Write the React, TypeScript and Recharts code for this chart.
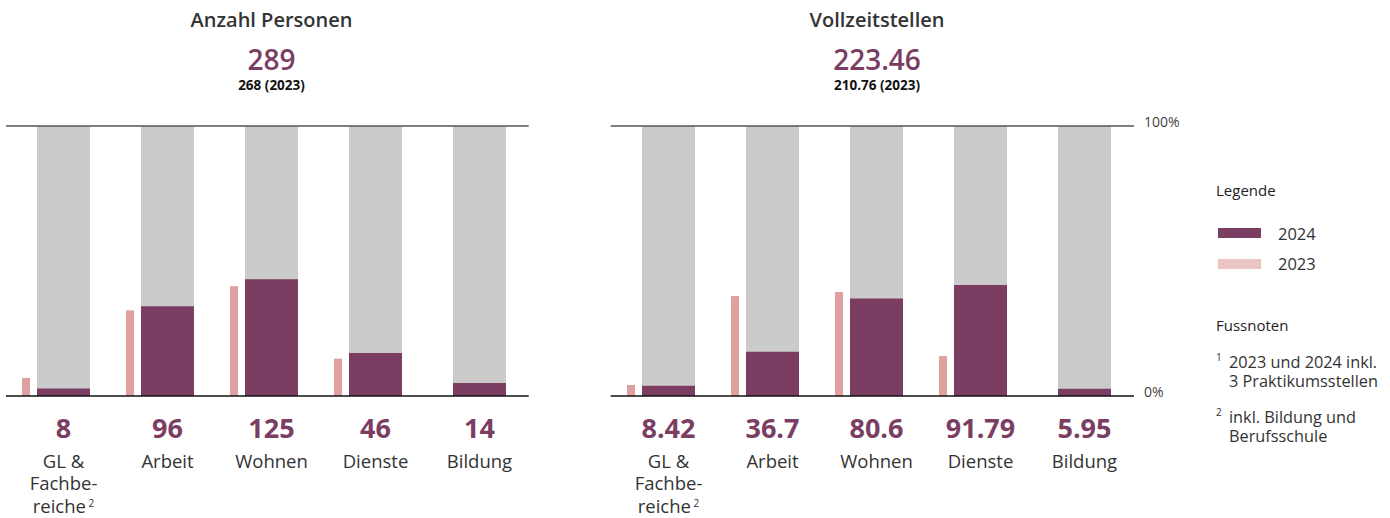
import React from 'react';
import { BarChart, Bar, XAxis, YAxis, ReferenceLine } from 'recharts';

const categories = ['GL & Fachbereiche', 'Arbeit', 'Wohnen', 'Dienste', 'Bildung'];
const categoryLines = [['GL &', 'Fachbe-', 'reiche'], ['Arbeit'], ['Wohnen'], ['Dienste'], ['Bildung']];
const categoryNotes = ['2', '', '', '', ''];

const personen2024 = [8, 96, 125, 46, 14];
const personen2023 = [18, 85, 109, 37, 0];
const personenTotal2024 = 289;
const personenTotal2023 = 268;

const vollzeit2024 = [8.42, 36.7, 80.6, 91.79, 5.95];
const vollzeit2023 = [8.6, 78, 81.2, 31.2, 0];
const vollzeitTotal2024 = 223.46;
const vollzeitTotal2023 = 210.76;

const yTicks = [0, 100];

const footnotes = [
  { mark: '1', lines: ['2023 und 2024 inkl.', '3 Praktikumsstellen'] },
  { mark: '2', lines: ['inkl. Bildung und', 'Berufsschule'] },
];

const PURPLE = '#7b3d62';
const PINK = '#e0a0a0';
const PINK_LEGEND = '#ebc4c4';
const GRAY = '#cbcbcb';
const FONT = '"Open Sans", sans-serif';

const buildRows = (v24: number[], t24: number, v23: number[], t23: number) =>
  categories.map((name, i) => ({
    name,
    s2024: (v24[i] / t24) * 100,
    s2023: (v23[i] / t23) * 100,
  }));

const personenRows = buildRows(personen2024, personenTotal2024, personen2023, personenTotal2023);
const vollzeitRows = buildRows(vollzeit2024, vollzeitTotal2024, vollzeit2023, vollzeitTotal2023);

const LINE_H = 22.5;

const makeCatTick = (values: number[]) => (props: any) => {
  const { x, y, payload } = props;
  const i = categories.indexOf(payload.value);
  const cx = x + 7.5;
  const lines = categoryLines[i];
  return (
    <g>
      <text x={cx} y={y + 32} dy="0.36em" textAnchor="middle" fontFamily={FONT} fontSize={27} fontWeight={700} fill={PURPLE}>
        {String(values[i])}
      </text>
      <text x={cx} y={y + 65} textAnchor="middle" fontFamily={FONT} fontSize={18.5} fill="#333">
        {lines.map((ln, k) => (
          <React.Fragment key={k}>
            <tspan x={cx} dy={k === 0 ? '0.36em' : LINE_H}>{ln}</tspan>
            {k === lines.length - 1 && categoryNotes[i] ? (
              <tspan fontSize={10} dy={-6}>{' ' + categoryNotes[i]}</tspan>
            ) : null}
          </React.Fragment>
        ))}
      </text>
    </g>
  );
};

const PercentTick = (props: any) => {
  const { x, y, payload } = props;
  return (
    <text x={x} y={y - 4.5} dy="0.36em" textAnchor="start" fontFamily={FONT} fontSize={14} fill="#444">
      {payload.value + '%'}
    </text>
  );
};

function Panel(props: {
  left: number;
  width: number;
  margin: { top: number; right: number; bottom: number; left: number };
  padding: { left: number; right: number };
  rows: any[];
  values: number[];
  showPercent: boolean;
}) {
  const { left, width, margin, padding, rows, values, showPercent } = props;
  return (
    <div style={{ position: 'absolute', left, top: 0 }}>
      <BarChart width={width} height={518} data={rows} margin={margin} barGap={7}>
        <XAxis
          dataKey="name"
          height={122}
          padding={padding}
          tickLine={false}
          tickSize={0}
          tickMargin={0}
          axisLine={{ stroke: '#111', strokeWidth: 1.5 }}
          tick={makeCatTick(values)}
          interval={0}
        />
        <YAxis
          domain={[0, 100]}
          ticks={yTicks}
          hide={!showPercent}
          orientation="right"
          width={50}
          axisLine={false}
          tickLine={false}
          tickSize={6}
          tickMargin={4}
          tick={<PercentTick />}
        />
        <Bar dataKey="s2023" fill={PINK} barSize={8} isAnimationActive={false} />
        <Bar dataKey="s2024" fill={PURPLE} barSize={53} background={{ fill: GRAY }} isAnimationActive={false} />
        <ReferenceLine y={100} stroke="#555" strokeWidth={1.5} ifOverflow="visible" />
      </BarChart>
    </div>
  );
}

const footTops = [362, 417];

export default function App() {
  return (
    <div style={{ position: 'absolute', left: 0, top: 0, width: 1390, height: 518, background: '#fff', overflow: 'hidden' }}>
      <Panel
        left={0}
        width={540}
        margin={{ top: 126, right: 11.3, bottom: 0, left: 6 }}
        padding={{ left: -2, right: 4.7 }}
        rows={personenRows}
        values={personen2024}
        showPercent={false}
      />
      <Panel
        left={600}
        width={600}
        margin={{ top: 126, right: 16, bottom: 0, left: 10.7 }}
        padding={{ left: -1.7, right: 5 }}
        rows={vollzeitRows}
        values={vollzeit2024}
        showPercent={true}
      />
      <svg width={1390} height={518} style={{ position: 'absolute', left: 0, top: 0, pointerEvents: 'none' }} fontFamily={FONT}>
        <text x={271.5} y={20} dy="0.36em" textAnchor="middle" fontSize={20} fontWeight={600} fill="#333">Anzahl Personen</text>
        <text x={271.5} y={60} dy="0.36em" textAnchor="middle" fontSize={28} fontWeight={600} fill={PURPLE}>{String(personenTotal2024)}</text>
        <text x={271.5} y={85} dy="0.36em" textAnchor="middle" fontSize={13.5} fontWeight={700} fill="#111">{`${personenTotal2023} (2023)`}</text>

        <text x={877} y={20} dy="0.36em" textAnchor="middle" fontSize={20} fontWeight={600} fill="#333">Vollzeitstellen</text>
        <text x={877} y={60} dy="0.36em" textAnchor="middle" fontSize={28} fontWeight={600} fill={PURPLE}>{String(vollzeitTotal2024)}</text>
        <text x={877} y={85} dy="0.36em" textAnchor="middle" fontSize={13.5} fontWeight={700} fill="#111">{`${vollzeitTotal2023} (2023)`}</text>

        <text x={1216} y={191} dy="0.36em" fontSize={15} fill="#222">Legende</text>
        <rect x={1218} y={228} width={43} height={10} fill={PURPLE} />
        <text x={1278} y={234} dy="0.36em" fontSize={16.5} fill="#333">2024</text>
        <rect x={1218} y={259} width={43} height={10} fill={PINK_LEGEND} />
        <text x={1278} y={264} dy="0.36em" fontSize={16.5} fill="#333">2023</text>

        <text x={1216} y={326} dy="0.36em" fontSize={15} fill="#222">Fussnoten</text>
        {footnotes.map((f, j) => (
          <text key={j} x={1216} y={footTops[j]} fontSize={16.3} fill="#333">
            <tspan x={1216} dy={-1.4} fontSize={10}>{f.mark}</tspan>
            {f.lines.map((ln, k) => (
              <tspan key={k} x={1229} dy={k === 0 ? 7.3 : 19.5}>{ln}</tspan>
            ))}
          </text>
        ))}
      </svg>
    </div>
  );
}
